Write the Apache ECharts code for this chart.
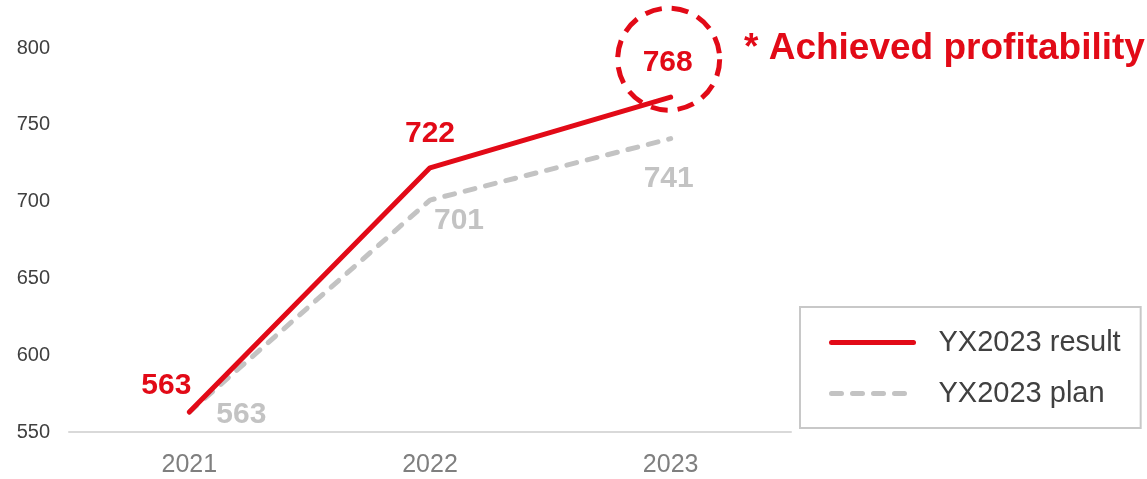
<!DOCTYPE html>
<html>
<head>
<meta charset="utf-8">
<script src="https://cdn.jsdelivr.net/npm/echarts@6/dist/echarts.min.js"></script>
<style>
  html, body { margin: 0; padding: 0; background: #fff; }
  #chart { width: 1147px; height: 479px; }
</style>
</head>
<body>
<div id="chart"></div>
<script>
// Years on the x axis
const years = ['2021', '2022', '2023'];
// Actual result vs. plan
const resultValues = [563, 722, 768];
const planValues = [563, 701, 741];
// Y axis range
const yMin = 550;
const yMax = 800;
const yStep = 50;
const resultName = 'YX2023 result';
const planName = 'YX2023 plan';
const noteText = '* Achieved profitability';

const RED = '#e20a17';
const GREY = '#c3c3c3';
const FONT = 'Arial, "Liberation Sans", sans-serif';

// label placement (pixel offsets from each point, label centred)
const resultLabelOffsets = [[-23, -26], [0, -34], [-3, -34]];
const planLabelOffsets = [[52, 3], [29, 21], [-2, 40]];

function withLabels(values, offsets) {
  return values.map((v, i) => ({
    value: v,
    label: { offset: offsets[i] }
  }));
}

const chart = echarts.init(document.getElementById('chart'));
chart.setOption({
  animation: false,
  backgroundColor: '#ffffff',
  grid: { left: 69, right: 356, top: 48, bottom: 47, containLabel: false },
  xAxis: {
    type: 'category',
    data: years,
    boundaryGap: true,
    axisLine: { show: true, lineStyle: { color: '#d9d9d9', width: 2 } },
    axisTick: { show: false },
    axisLabel: { color: '#7f7f7f', fontSize: 25, fontFamily: FONT, margin: 21 }
  },
  yAxis: {
    type: 'value',
    min: yMin,
    max: yMax,
    interval: yStep,
    axisLine: { show: false },
    axisTick: { show: false },
    splitLine: { show: false },
    axisLabel: { color: '#404040', fontSize: 20, fontFamily: FONT, margin: 19 }
  },
  legend: {
    orient: 'vertical',
    left: 800,
    top: 307,
    padding: [21, 20, 20, 29],
    itemGap: 22,
    itemWidth: 82,
    itemHeight: 29,
    borderColor: '#c8c8c8',
    borderWidth: 2,
    data: [resultName, planName],
    itemStyle: { opacity: 0 },
    lineStyle: { width: 5, cap: 'round' },
    textStyle: { color: '#404040', fontSize: 29, fontFamily: FONT, padding: [0, 0, 0, 20] }
  },
  series: [
    {
      name: planName,
      type: 'line',
      data: withLabels(planValues, planLabelOffsets),
      symbol: 'circle',
      symbolSize: 0.1,
      itemStyle: { color: GREY },
      lineStyle: { color: GREY, width: 5, type: [10, 11], cap: 'round' },
      label: {
        show: true,
        position: 'inside',
        align: 'center',
        verticalAlign: 'middle',
        color: GREY,
        fontSize: 30,
        fontWeight: 'bold',
        fontFamily: FONT
      },
      z: 2
    },
    {
      name: resultName,
      type: 'line',
      data: withLabels(resultValues, resultLabelOffsets),
      symbol: 'circle',
      symbolSize: 0.1,
      itemStyle: { color: RED },
      lineStyle: { color: RED, width: 5, cap: 'round' },
      label: {
        show: true,
        position: 'inside',
        align: 'center',
        verticalAlign: 'middle',
        color: RED,
        fontSize: 30,
        fontWeight: 'bold',
        fontFamily: FONT
      },
      markPoint: {
        silent: true,
        symbol: 'circle',
        symbolSize: 102,
        symbolOffset: [-2, -38],
        label: { show: false },
        itemStyle: {
          color: 'rgba(0,0,0,0)',
          borderColor: RED,
          borderWidth: 5,
          borderType: [17, 10]
        },
        data: [{ coord: [years.length - 1, resultValues[resultValues.length - 1]] }]
      },
      z: 3
    }
  ],
  graphic: [
    {
      type: 'text',
      left: 744,
      top: 30,
      style: {
        text: noteText,
        fill: RED,
        font: 'bold 37px ' + FONT
      }
    }
  ]
});
</script>
</body>
</html>
